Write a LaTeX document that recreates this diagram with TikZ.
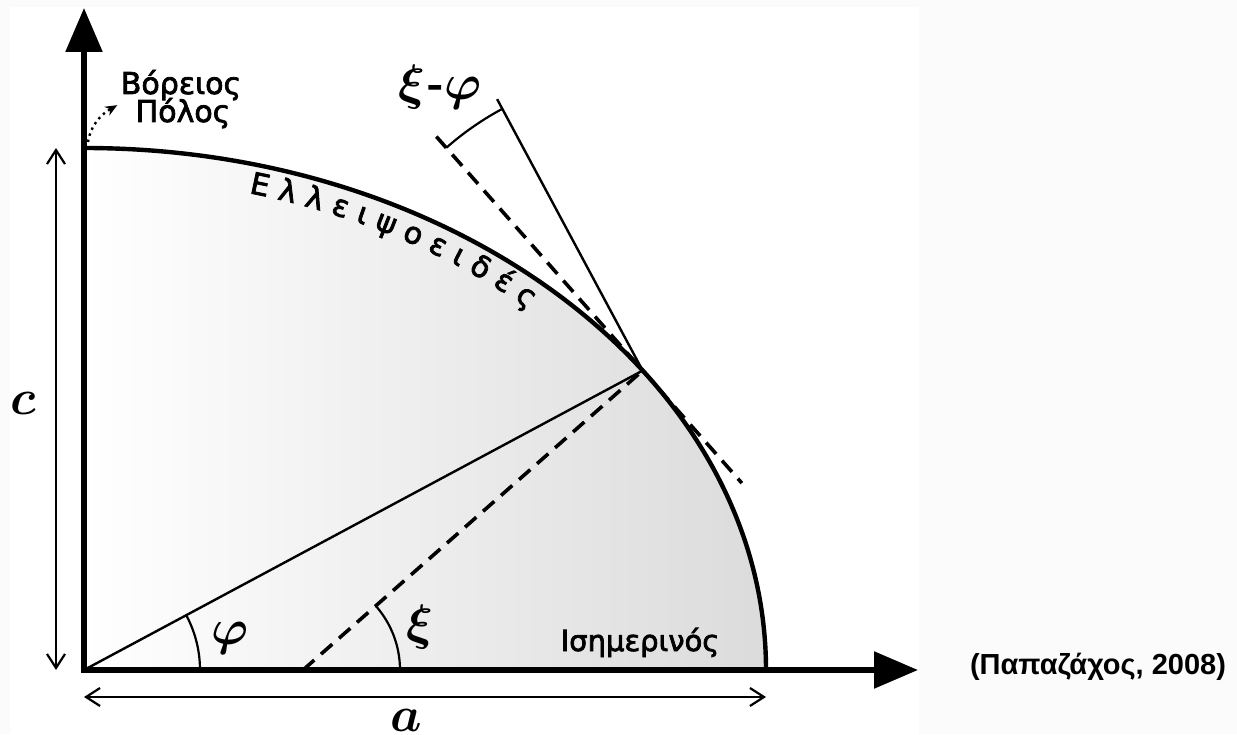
\documentclass[tikz,border=0pt]{standalone}
\usepackage{amsmath}
\usepackage{fontspec}
\setmainfont{DejaVu Sans}[FakeBold=2.5]
\newfontfamily\sourcefont{Liberation Sans}
\usetikzlibrary{arrows.meta, calc, decorations.text}

\begin{document}
\begin{tikzpicture}[x=0.5pt, y=0.5pt,
  axe/.style={line width=2.8pt, -{Triangle[length=22pt, width=18pt]}},
  cote/.style={line width=1.1pt, {Straight Barb[length=7pt, width=9pt]}-{Straight Barb[length=7pt, width=9pt]}},
  tirets/.style={line width=1.8pt, dash pattern=on 7.5pt off 4.5pt},
  fin/.style={line width=1.2pt},
  arcangle/.style={line width=1.1pt},
  lettre/.style={font=\fontsize{26}{28}\selectfont, inner sep=0pt},
  etiquette/.style={font=\fontsize{14.5}{14}\selectfont, inner sep=1pt, anchor=base}
]
  % Fond
  \fill[gray!3] (0,0) rectangle (1237,734);
  \fill[white] (10,0) rectangle (919,727);
  \useasboundingbox (0,0) rectangle (1237,734);
  % Points
  \coordinate (O) at (84,64);
  \coordinate (pole) at (84,586);
  \coordinate (E) at (766,64);
  \coordinate (P) at ($(O)+(35:682 and 522)$);
  \coordinate (N) at (303,64);
  \coordinate (T1) at ($(P)+(131.4:312)$);
  \coordinate (T2) at ($(P)+(-48.6:150)$);
  \coordinate (R) at ($(P)+(118.2:308)$);
  \coordinate (ytip) at (84,726);
  \coordinate (xtip) at (918,64);
  % Ellipsoide
  \shade[left color=white, right color=gray!28] (O) -- (E) arc[start angle=0, end angle=90, x radius=682, y radius=522] -- cycle;
  \draw[line width=2.2pt] (E) arc[start angle=0, end angle=90, x radius=682, y radius=522];
  \path[decorate, decoration={text along path, text align={fit to path}, raise=-14.5pt,
      text={|\fontsize{15}{14}\selectfont|Ελλειψοειδές}}]
    ($(O)+(75.5:682 and 522)$) arc[start angle=75.5, end angle=47.5, x radius=682, y radius=522];
  % Rayon, normale, tangente
  \draw[fin] (O) -- (P);
  \draw[tirets] (N) -- (P);
  \draw[tirets] (T1) -- (T2);
  \draw[fin] (P) -- (R);
  % Angles
  \draw[arcangle] ($(O)+(116,0)$) arc[start angle=0, end angle=28.2, radius=116];
  \draw[arcangle] ($(N)+(97,0)$) arc[start angle=0, end angle=41.4, radius=97];
  \draw[arcangle] ($(P)+(118.2:297)$) arc[start angle=118.2, end angle=131.4, radius=297];
  % Axes
  \draw[axe] ([yshift=-1.4pt]O) -- (ytip);
  \draw[axe] ([xshift=-1.4pt]O) -- (xtip);
  % Cotes
  \draw[cote] ([xshift=-14pt]pole) -- ([xshift=-14pt]O);
  \draw[cote] ([yshift=-13.5pt]O) -- ([yshift=-13.5pt]E);
  % Lettres
  \node[lettre] (c) at (23,331) {$\boldsymbol{c}$};
  \node[lettre] (a) at (406,14) {$\boldsymbol{a}$};
  \node[lettre] (phi) at (230,96) {$\boldsymbol{\varphi}$};
  \node[lettre] (xi) at (420,107) {$\boldsymbol{\xi}$};
  \node[lettre] (xiphi) at (440,647) {$\boldsymbol{\xi}$\kern1pt{\fontsize{22}{22}\selectfont-}\kern1pt$\boldsymbol{\varphi}$};
  % Etiquettes
  \node[etiquette, font=\fontsize{15}{14}\selectfont] (boreios) at (181,640) {Βόρειος};
  \node[etiquette, font=\fontsize{15}{14}\selectfont] (polos) at (183,612) {Πόλος};
  \node[etiquette] (isimerinos) at (640,83) {Ισημερινός};
  \node[font=\sourcefont\bfseries\fontsize{14.5}{15}\selectfont] (source) at (1098,67) {(Παπαζάχος, 2008)};
  \draw[line width=1.2pt, dotted, -{Stealth[length=6pt, width=5pt]}]
    ($(pole)+(4,6)$) to[out=80, in=210] ([xshift=-8pt, yshift=4pt]polos.west);
\end{tikzpicture}
\end{document}
